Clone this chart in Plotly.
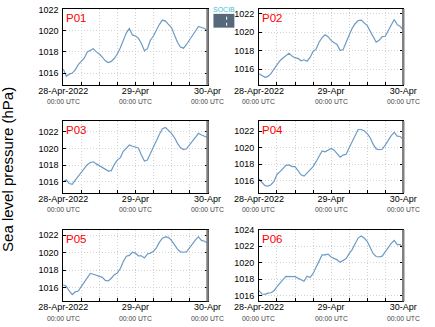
import pandas as pd
import plotly.graph_objects as go

times = pd.date_range("2022-04-28 00:00", periods=49, freq="h")

stations = ["P01", "P02", "P03", "P04", "P05", "P06"]

p01 = [1016.4, 1015.7, 1015.9, 1016.0, 1016.3, 1016.8, 1017.1, 1017.4, 1018.0, 1018.15,
       1018.3, 1018.0, 1017.8, 1017.5, 1017.15, 1017.0, 1017.1, 1017.4, 1017.8, 1018.4,
       1019.2, 1019.8, 1020.2, 1019.6, 1019.5, 1019.3, 1018.8, 1018.1, 1018.3, 1019.1,
       1019.5, 1020.1, 1020.6, 1021.0, 1020.9, 1020.6, 1020.3, 1019.6, 1018.9, 1018.45,
       1018.35, 1018.7, 1019.1, 1019.6, 1019.9, 1020.4, 1020.3, 1020.2, 1020.0]
p02 = [1015.5, 1015.3, 1015.1, 1015.2, 1015.5, 1016.0, 1016.5, 1016.9, 1017.2, 1017.5,
       1017.7, 1017.4, 1017.2, 1017.15, 1016.9, 1017.0, 1016.85, 1017.25, 1017.9, 1018.15,
       1018.9, 1019.4, 1019.7, 1019.5, 1019.1, 1018.85, 1018.65, 1018.0, 1018.1, 1018.9,
       1019.7, 1020.4, 1020.9, 1021.25, 1021.3, 1021.0, 1020.7, 1020.1, 1019.5, 1018.9,
       1019.1, 1019.5, 1019.55, 1020.2, 1020.8, 1021.35, 1020.8, 1020.6, 1020.2]
p03 = [1016.05, 1016.25, 1015.8, 1015.7, 1016.2, 1016.7, 1017.15, 1017.6, 1018.05, 1018.3,
       1018.4, 1018.15, 1017.95, 1017.8, 1017.6, 1017.3, 1017.35, 1018.1, 1018.6, 1018.9,
       1019.65, 1020.05, 1020.4, 1020.25, 1020.15, 1020.05, 1019.2, 1018.5, 1018.6, 1019.4,
       1020.1, 1020.9, 1021.7, 1022.35, 1022.5, 1022.15, 1021.8, 1021.3, 1020.6, 1020.1,
       1019.85, 1019.95, 1020.4, 1020.95, 1021.4, 1021.8, 1021.6, 1021.45, 1021.3]
p04 = [1016.2, 1015.8, 1015.4, 1015.35, 1015.5, 1015.9, 1016.75, 1017.1, 1017.45, 1017.85,
       1017.9, 1017.7, 1017.7, 1017.2, 1016.7, 1016.55, 1016.9, 1017.3, 1017.7, 1018.3,
       1019.0, 1019.6, 1019.5, 1019.7, 1019.9, 1019.7, 1019.3, 1018.85, 1019.1, 1019.2,
       1020.0, 1020.7, 1021.35, 1022.2, 1022.2, 1022.05, 1021.7, 1021.2, 1020.4, 1019.85,
       1019.75, 1019.8, 1020.3, 1020.95, 1021.45, 1021.85, 1021.4, 1021.35, 1021.0]
p05 = [1016.35, 1016.2, 1015.65, 1015.25, 1015.55, 1015.65, 1016.15, 1016.65, 1017.2, 1017.65,
       1017.55, 1017.45, 1017.35, 1017.2, 1016.85, 1016.8, 1017.1, 1017.5, 1017.7, 1018.2,
       1019.0, 1019.6, 1019.7, 1020.05, 1019.95, 1019.65, 1019.65, 1019.4, 1019.85, 1019.95,
       1020.15, 1020.55, 1021.2, 1021.65, 1021.8, 1021.75, 1021.4, 1020.95, 1020.4, 1020.1,
       1020.05, 1020.1, 1020.5, 1021.0, 1021.45, 1021.8, 1021.4, 1021.3, 1021.1]
p06 = [1016.6, 1016.2, 1016.15, 1016.3, 1016.35, 1016.6, 1017.1, 1017.6, 1017.95, 1018.35,
       1018.3, 1018.3, 1018.3, 1018.1, 1017.95, 1017.75, 1018.35, 1018.2, 1018.7, 1019.4,
       1020.2, 1020.95, 1020.95, 1021.05, 1020.7, 1020.55, 1020.35, 1020.05, 1020.3, 1020.5,
       1021.1, 1021.6, 1022.3, 1023.0, 1023.25, 1023.0, 1022.6, 1021.9, 1021.1, 1020.75,
       1020.7, 1020.8, 1021.3, 1021.95, 1022.35, 1022.7, 1022.2, 1022.2, 1021.75]
series = [p01, p02, p03, p04, p05, p06]

tick_dates = ["2022-04-28 00:00", "2022-04-29 00:00", "2022-04-30 00:00"]
tick_days = ["28-Apr-2022", "29-Apr", "30-Apr"]
tick_sub = "00:00 UTC"

y_ranges = [[1014.9, 1022.05], [1014.3, 1022.5], [1014.7, 1023.27],
            [1014.53, 1023.23], [1014.47, 1022.6], [1015.3, 1024.0]]

W, H = 435, 327
col_x = [(42, 200.5), (257, 415.5)]
row_y = [(4, 81), (117.8, 190.7), (228.3, 301)]

LINE = "#6b9bc6"
GRID = "#d2d2d2"
GDASH = "1px,2px"
FONT = "Liberation Sans, Arial, sans-serif"

fig = go.Figure()

for i in range(6):
    r, c = divmod(i, 2)
    n = "" if i == 0 else str(i + 1)
    x0, x1 = col_x[c]
    yt, yb = row_y[r]
    fig.add_trace(go.Scatter(x=times, y=series[i], mode="lines",
                             line=dict(color=LINE, width=1.2),
                             xaxis="x" + n, yaxis="y" + n, showlegend=False,
                             hoverinfo="skip"))
    fig.layout["xaxis" + n] = dict(
        domain=[x0 / W, x1 / W], anchor="y" + n, type="date",
        range=[tick_dates[0], tick_dates[-1]],
        tickmode="array", tickvals=tick_dates, ticktext=tick_days,
        ticks="inside", ticklen=3, tickcolor="black",
        showline=True, linecolor="black", linewidth=1, mirror=True,
        showgrid=True, gridcolor=GRID, griddash=GDASH, gridwidth=1,
        minor=dict(dtick=6 * 3600 * 1000, tick0=tick_dates[0], showgrid=True,
                   gridcolor=GRID, griddash=GDASH, ticks="inside", ticklen=3,
                   tickcolor="black"),
        tickfont=dict(size=9, color="black", family=FONT),
        ticklabelstandoff=-3, zeroline=False, fixedrange=True)
    fig.layout["yaxis" + n] = dict(
        domain=[(H - yb) / H, (H - yt) / H], anchor="x" + n,
        range=y_ranges[i], tick0=1016, dtick=2, tickformat="d",
        ticks="inside", ticklen=3, tickcolor="black",
        showline=True, linecolor="black", linewidth=1, mirror="ticks",
        showgrid=True, gridcolor=GRID, griddash=GDASH, gridwidth=1,
        tickfont=dict(size=9, color="black", family=FONT),
        ticklabelstandoff=2, zeroline=False, fixedrange=True)
    fig.add_shape(type="line", xref=f"x{n} domain", yref=f"y{n} domain",
                  x0=1, x1=1, y0=0, y1=1, line=dict(color="#808080", width=2.5),
                  layer="above")
    fig.add_annotation(text=stations[i], xref=f"x{n} domain", yref=f"y{n} domain",
                       x=0, y=1, xanchor="left", yanchor="top", xshift=1, yshift=-1,
                       showarrow=False, font=dict(color="red", size=11.5, family=FONT))
    for td in tick_dates:
        fig.add_annotation(text=tick_sub, xref="x" + n, yref=f"y{n} domain",
                           x=td, y=0, xanchor="center", yanchor="middle",
                           yshift=-17, showarrow=False,
                           font=dict(size=6.8, color="#444", family=FONT))

fig.add_annotation(text="Sea level pressure (hPa)", xref="paper", yref="paper",
                   x=0, y=(H - 167) / H, xanchor="left", yanchor="middle",
                   xshift=-27, textangle=-90, showarrow=False, borderpad=0,
                   font=dict(size=15, color="black", family=FONT))

# SOCIB logo
fig.add_shape(type="rect", xref="paper", yref="paper",
              x0=207 / W, x1=230 / W, y0=(H - 23) / H, y1=(H - 9) / H,
              fillcolor="#55697b", line=dict(width=0))
fig.add_shape(type="line", xref="paper", yref="paper",
              x0=221.5 / W, x1=221.5 / W, y0=(H - 21) / H, y1=(H - 11) / H,
              line=dict(color="white", width=1, dash="dot"))
fig.add_annotation(text="SOCIB", xref="paper", yref="paper",
                   x=218.5 / W, y=(H - 9) / H, xanchor="center", yanchor="bottom",
                   showarrow=False, borderpad=0,
                   font=dict(size=7, color="#3fbcd6", family=FONT))

fig.update_layout(width=W, height=H, margin=dict(l=0, r=0, t=0, b=0),
                  paper_bgcolor="white", plot_bgcolor="white",
                  font=dict(family=FONT))

fig.write_html("out.html")
